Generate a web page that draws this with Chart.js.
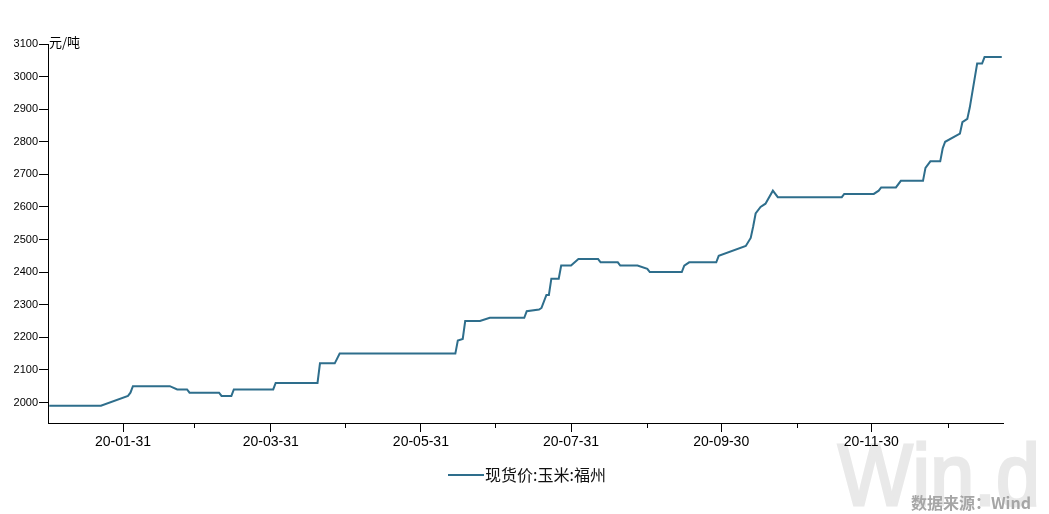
<!DOCTYPE html>
<html>
<head>
<meta charset="utf-8">
<script src="https://cdn.jsdelivr.net/npm/chart.js@4.4.1/dist/chart.umd.min.js"></script>
<style>
  html, body { margin: 0; padding: 0; background: #fff; }
  #wrap { width: 1049px; height: 514px; position: relative; }
</style>
</head>
<body>
<div id="wrap"><canvas id="c" width="1049" height="514"></canvas></div>
<script>
// ---- data (breakpoints) ----
const seriesName = '现货价:玉米:福州';
const unitLabel = '元/吨';
const sourceLabel = '数据来源：Wind';
const dates = [
  '2020-01-01','2020-01-22','2020-02-02','2020-02-03','2020-02-04','2020-02-19','2020-02-22','2020-02-26','2020-02-27',
  '2020-03-10','2020-03-11','2020-03-15','2020-03-16','2020-04-01','2020-04-02','2020-04-19','2020-04-20','2020-04-26',
  '2020-04-28','2020-06-14','2020-06-15','2020-06-17','2020-06-18','2020-06-24','2020-06-28','2020-07-12','2020-07-13',
  '2020-07-18','2020-07-19','2020-07-21','2020-07-22','2020-07-23','2020-07-26','2020-07-27','2020-07-31','2020-08-03',
  '2020-08-11','2020-08-12','2020-08-19','2020-08-20','2020-08-27','2020-08-31','2020-09-01','2020-09-14','2020-09-15',
  '2020-09-17','2020-09-28','2020-09-29','2020-10-10','2020-10-12','2020-10-13','2020-10-14','2020-10-16','2020-10-18',
  '2020-10-21','2020-10-23','2020-11-18','2020-11-19','2020-12-01','2020-12-03','2020-12-04','2020-12-10','2020-12-12',
  '2020-12-21','2020-12-22','2020-12-24','2020-12-28','2020-12-29','2020-12-30','2021-01-05','2021-01-06','2021-01-08',
  '2021-01-09','2021-01-12','2021-01-14','2021-01-15','2021-01-22'
];
const prices = [
  1990,1990,2020,2030,2050,2050,2040,2040,2030,
  2030,2020,2020,2040,2040,2060,2060,2120,2120,
  2150,2150,2190,2195,2250,2250,2260,2260,2280,
  2285,2290,2330,2330,2380,2380,2420,2420,2440,
  2440,2430,2430,2420,2420,2410,2400,2400,2420,
  2430,2430,2450,2480,2505,2540,2580,2600,2610,
  2650,2630,2630,2640,2640,2650,2660,2660,2680,
  2680,2720,2740,2740,2780,2800,2825,2860,2870,
  2905,3040,3040,3060,3060
];
const majorTickDates = ['2020-01-31','2020-03-31','2020-05-31','2020-07-31','2020-09-30','2020-11-30'];
const majorTickLabels = ['20-01-31','20-03-31','20-05-31','20-07-31','20-09-30','20-11-30'];
const minorTickDates = ['2020-02-29','2020-04-30','2020-06-30','2020-08-31','2020-10-31','2020-12-31'];
const yTickValues = [2000,2100,2200,2300,2400,2500,2600,2700,2800,2900,3000,3100];

// ---- helpers ----
const BASE = Date.UTC(2020, 0, 1);
function dayOf(s) {
  const [y, m, d] = s.split('-').map(Number);
  return (Date.UTC(y, m - 1, d) - BASE) / 86400000;
}
const points = dates.map((d, i) => ({ x: dayOf(d), y: prices[i] }));
const majorDays = majorTickDates.map(dayOf);

const lineColor = '#2E6E8C';

const extras = {
  id: 'extras',
  beforeDraw(chart) {
    const { ctx } = chart;
    ctx.save();
    ctx.fillStyle = '#e9e9e9';
    ctx.font = '88px "Liberation Sans", Arial, sans-serif';
    ctx.textBaseline = 'alphabetic';
    ctx.textAlign = 'left';
    const w = ctx.measureText('Win.d').width;
    ctx.translate(838, 505);
    ctx.scale(202 / w, 1);
    ctx.lineWidth = 3;
    ctx.strokeStyle = '#e9e9e9';
    ctx.fillText('Win.d', 0, 0);
    ctx.strokeText('Win.d', 0, 0);
    ctx.restore();
  },
  afterDraw(chart) {
    const { ctx, chartArea, scales: { x, y } } = chart;
    ctx.save();
    // minor ticks
    ctx.strokeStyle = '#000';
    ctx.lineWidth = 1;
    minorTickDates.forEach(d => {
      const px = Math.round(x.getPixelForValue(dayOf(d))) + 0.5;
      ctx.beginPath();
      ctx.moveTo(px, chartArea.bottom);
      ctx.lineTo(px, chartArea.bottom + 5);
      ctx.stroke();
    });
    // unit label
    ctx.fillStyle = '#000';
    ctx.font = '13px "Noto Sans CJK SC", sans-serif';
    ctx.textBaseline = 'middle';
    ctx.textAlign = 'left';
    ctx.fillText(unitLabel, chartArea.left + 1, y.getPixelForValue(3100) - 2);
    // legend
    const ly = 475;
    ctx.strokeStyle = lineColor;
    ctx.lineWidth = 2;
    ctx.beginPath();
    ctx.moveTo(448, ly);
    ctx.lineTo(484, ly);
    ctx.stroke();
    ctx.fillStyle = '#111';
    ctx.font = '16px "Noto Sans CJK SC", sans-serif';
    ctx.fillText(seriesName, 485, ly);
    // source
    ctx.fillStyle = '#a6a6a6';
    ctx.font = 'bold 16px "Noto Sans CJK SC", sans-serif';
    ctx.textAlign = 'right';
    ctx.fillText(sourceLabel, 1031, 503);
    ctx.restore();
  }
};

new Chart(document.getElementById('c'), {
  type: 'line',
  data: {
    datasets: [{
      label: seriesName,
      data: points,
      borderColor: lineColor,
      backgroundColor: lineColor,
      borderWidth: 2,
      pointRadius: 0,
      tension: 0,
      fill: false
    }]
  },
  options: {
    responsive: false,
    animation: false,
    events: [],
    layout: { padding: { left: 0, right: 46, top: 44, bottom: 61 } },
    plugins: { legend: { display: false }, tooltip: { enabled: false } },
    scales: {
      x: {
        type: 'linear',
        min: -0.5,
        max: 387.5,
        afterBuildTicks(scale) { scale.ticks = majorDays.map(v => ({ value: v })); },
        afterFit(scale) { scale.height = 30; },
        ticks: {
          autoSkip: false,
          maxRotation: 0,
          padding: 2,
          color: '#000',
          font: { family: '"Liberation Sans", Arial, sans-serif', size: 14 },
          callback(v) { const i = majorDays.indexOf(v); return i >= 0 ? majorTickLabels[i] : ''; }
        },
        grid: { display: true, drawOnChartArea: false, drawTicks: true, tickLength: 9, tickColor: '#000', tickWidth: 1 },
        border: { display: true, color: '#000', width: 1 }
      },
      y: {
        type: 'linear',
        min: 1937,
        max: 3100,
        afterBuildTicks(scale) { scale.ticks = yTickValues.map(v => ({ value: v })); },
        afterFit(scale) { scale.width = 48; },
        ticks: {
          autoSkip: false,
          padding: 1,
          color: '#000',
          font: { family: '"Liberation Sans", Arial, sans-serif', size: 11 },
          callback(v) { return String(v); }
        },
        grid: { display: true, drawOnChartArea: false, drawTicks: true, tickLength: 9, tickColor: '#000', tickWidth: 1 },
        border: { display: true, color: '#000', width: 1 }
      }
    }
  },
  plugins: [extras]
});
</script>
</body>
</html>
